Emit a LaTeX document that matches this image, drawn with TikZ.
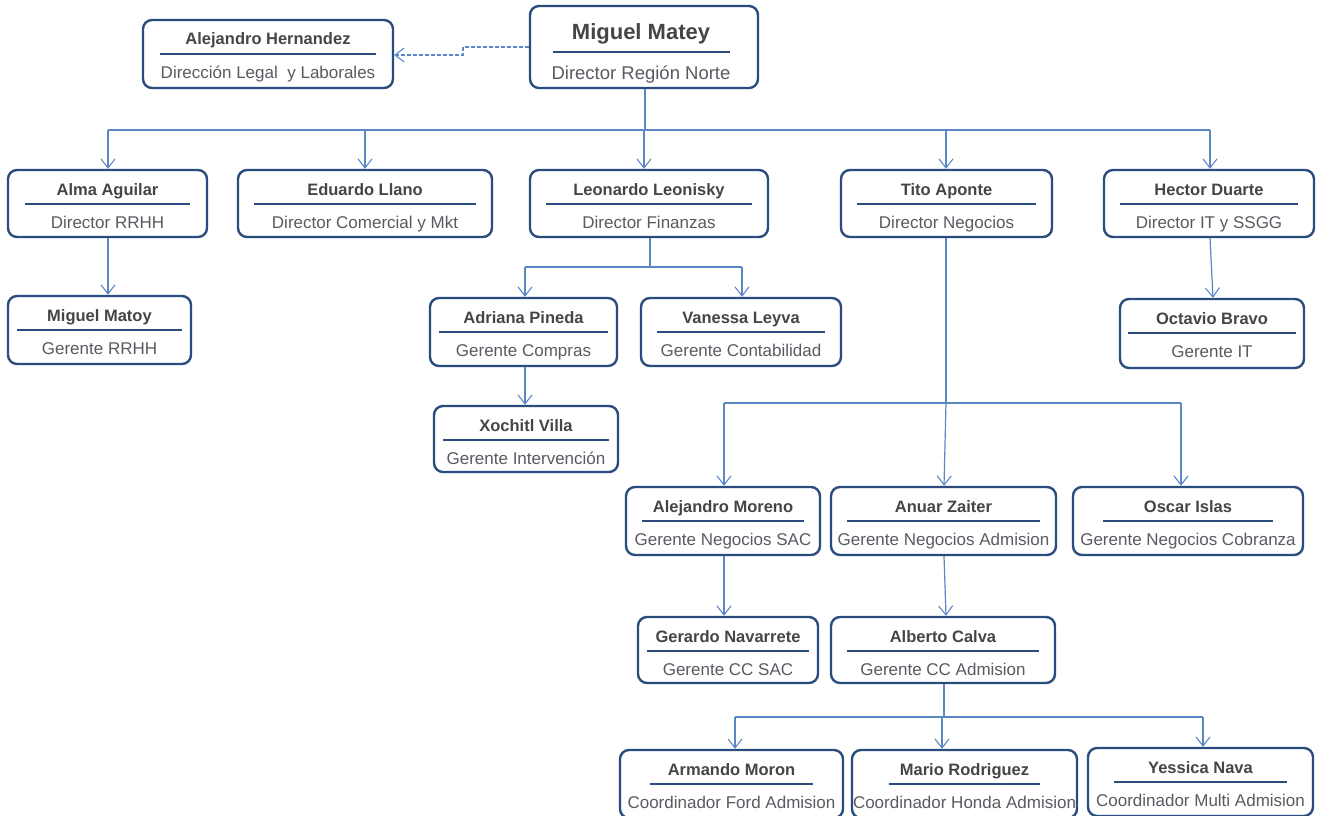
\documentclass[tikz,border=0pt]{standalone}
\usepackage{fontspec}
\setmainfont{Liberation Sans}
\usetikzlibrary{arrows.meta}
\definecolor{boxblue}{HTML}{2B4C7E}
\definecolor{linkblue}{HTML}{5B87C5}
\definecolor{nametxt}{HTML}{454545}
\definecolor{subtxt}{HTML}{5A5A62}
\tikzset{
  box/.style={draw=boxblue, line width=2.4pt, rounded corners=9pt, fill=white, inner sep=0pt},
  nametext/.style={anchor=base, inner sep=0pt, font=\fontsize{16.5}{18}\selectfont\bfseries, text=nametxt},
  bigname/.style={anchor=base, inner sep=0pt, font=\fontsize{22}{24}\selectfont\bfseries, text=nametxt},
  subtext/.style={anchor=base, inner sep=0pt, font=\fontsize{17}{19}\selectfont, text=subtxt},
  bigsub/.style={anchor=base, inner sep=0pt, font=\fontsize{18.5}{20}\selectfont, text=subtxt},
  sepline/.style={draw=boxblue, line width=2.6pt},
  link/.style={draw=linkblue, line width=1.2pt},
  linkarrow/.style={link, -{Straight Barb[length=9pt, width=14pt, line width=1.1pt]}},
}
\newcommand\person[8]{%
  \node[box, minimum width={(#4-#2)*1pt}, minimum height={(#5-#3)*1pt}] (#1) at ({(#2+#4)/2},{(#3+#5)/2}) {};
  \node[nametext] (#1-n) at ({(#2+#4)/2},{#3+25}) {#6};
  \draw[sepline] ({#2+#8},{#3+34}) -- ({#4-#8},{#3+34});
  \node[subtext] (#1-s) at ({(#2+#4)/2},{#3+58}) {#7};
}
\begin{document}
\begin{tikzpicture}[x=1pt,y=-1pt]
\useasboundingbox (0,0) rectangle (1317,816);
% top
\node[box, minimum width=228pt, minimum height=82pt] (matey) at (644,47) {};
\node[bigname] (matey-n) at (641,40) {Miguel Matey};
\draw[sepline] (553,52) -- (730,52);
\node[bigsub] (matey-s) at (641,80) {Director Región Norte};

\person{hern}{143}{20}{393}{88}{Alejandro Hernandez}{Dirección Legal\ \ y Laborales}{17}

% directors
\person{alma}{8}{170}{207}{237}{Alma Aguilar}{Director RRHH}{17}
\person{edu}{238}{170}{492}{237}{Eduardo Llano}{Director Comercial y Mkt}{16}
\person{leo}{530}{170}{768}{237}{Leonardo Leonisky}{Director Finanzas}{16}
\person{tito}{841}{170}{1052}{237}{Tito Aponte}{Director Negocios}{16}
\person{hector}{1104}{170}{1314}{237}{Hector Duarte}{Director IT y SSGG}{16}

\person{matoy}{8}{296}{191}{364}{Miguel Matoy}{Gerente RRHH}{9}
\person{adri}{430}{298}{617}{366}{Adriana Pineda}{Gerente Compras}{9}
\person{vane}{641}{298}{841}{366}{Vanessa Leyva}{Gerente Contabilidad}{16}
\person{xoch}{434}{406}{618}{472}{Xochitl Villa}{Gerente Intervención}{9}
\person{octa}{1120}{299}{1304}{368}{Octavio Bravo}{Gerente IT}{8}

\person{more}{626}{487}{820}{555}{Alejandro Moreno}{Gerente Negocios SAC}{16}
\person{anuar}{831}{487}{1056}{555}{Anuar Zaiter}{Gerente Negocios Admision}{16}
\person{oscar}{1073}{487}{1303}{555}{Oscar Islas}{Gerente Negocios Cobranza}{30}

\person{gera}{638}{617}{818}{683}{Gerardo Navarrete}{Gerente CC SAC}{9}
\person{calva}{831}{617}{1055}{683}{Alberto Calva}{Gerente CC Admision}{16}

\person{arma}{620}{750}{843}{818}{Armando Moron}{Coordinador Ford Admision}{30}
\person{mario}{852}{750}{1077}{818}{Mario Rodriguez}{Coordinador Honda Admision}{37}
\person{yess}{1088}{748}{1313}{816}{Yessica Nava}{Coordinador Multi Admision}{26}

% dashed link
\coordinate (dstep) at (463,47);
\draw[linkarrow, dash pattern=on 4pt off 2pt, line width=1.1pt] (matey.west |- 0,47) -- (dstep) -- (463,55) -- (hern.east |- 0,55);

% main bus
\coordinate (bus) at (645,130);
\draw[link] (matey.south -| bus) -- (bus);
\draw[link] (108,130) -- (1210,130);
\foreach \n/\x in {alma/108,edu/365,leo/644,tito/946,hector/1210}
  \draw[linkarrow] (\x,130) -- (\n.north -| \x,0);

\draw[linkarrow] (alma.south -| 108,0) -- (matoy.north -| 108,0);

\draw[link] (leo.south -| 650,0) -- (650,267);
\draw[link] (525,267) -- (742,267);
\draw[linkarrow] (525,267) -- (adri.north -| 525,0);
\draw[linkarrow] (742,267) -- (vane.north -| 742,0);
\draw[linkarrow] (adri.south -| 525,0) -- (xoch.north -| 525,0);

\draw[linkarrow] (hector.south -| 1210,0) -- (octa.north -| 1213,0);

\draw[link] (tito.south -| 946,0) -- (946,403);
\draw[link] (724,403) -- (1181,403);
\draw[linkarrow] (724,403) -- (more.north -| 724,0);
\draw[linkarrow] (946,403) -- (anuar.north -| 944,0);
\draw[linkarrow] (1181,403) -- (oscar.north -| 1181,0);

\draw[linkarrow] (more.south -| 724,0) -- (gera.north -| 724,0);
\draw[linkarrow] (anuar.south -| 944,0) -- (calva.north -| 946,0);

\draw[link] (calva.south -| 944,0) -- (944,717);
\draw[link] (735,717) -- (1203,717);
\draw[linkarrow] (735,717) -- (arma.north -| 735,0);
\draw[linkarrow] (942,717) -- (mario.north -| 942,0);
\draw[linkarrow] (1203,717) -- (yess.north -| 1203,0);
\end{tikzpicture}
\end{document}
